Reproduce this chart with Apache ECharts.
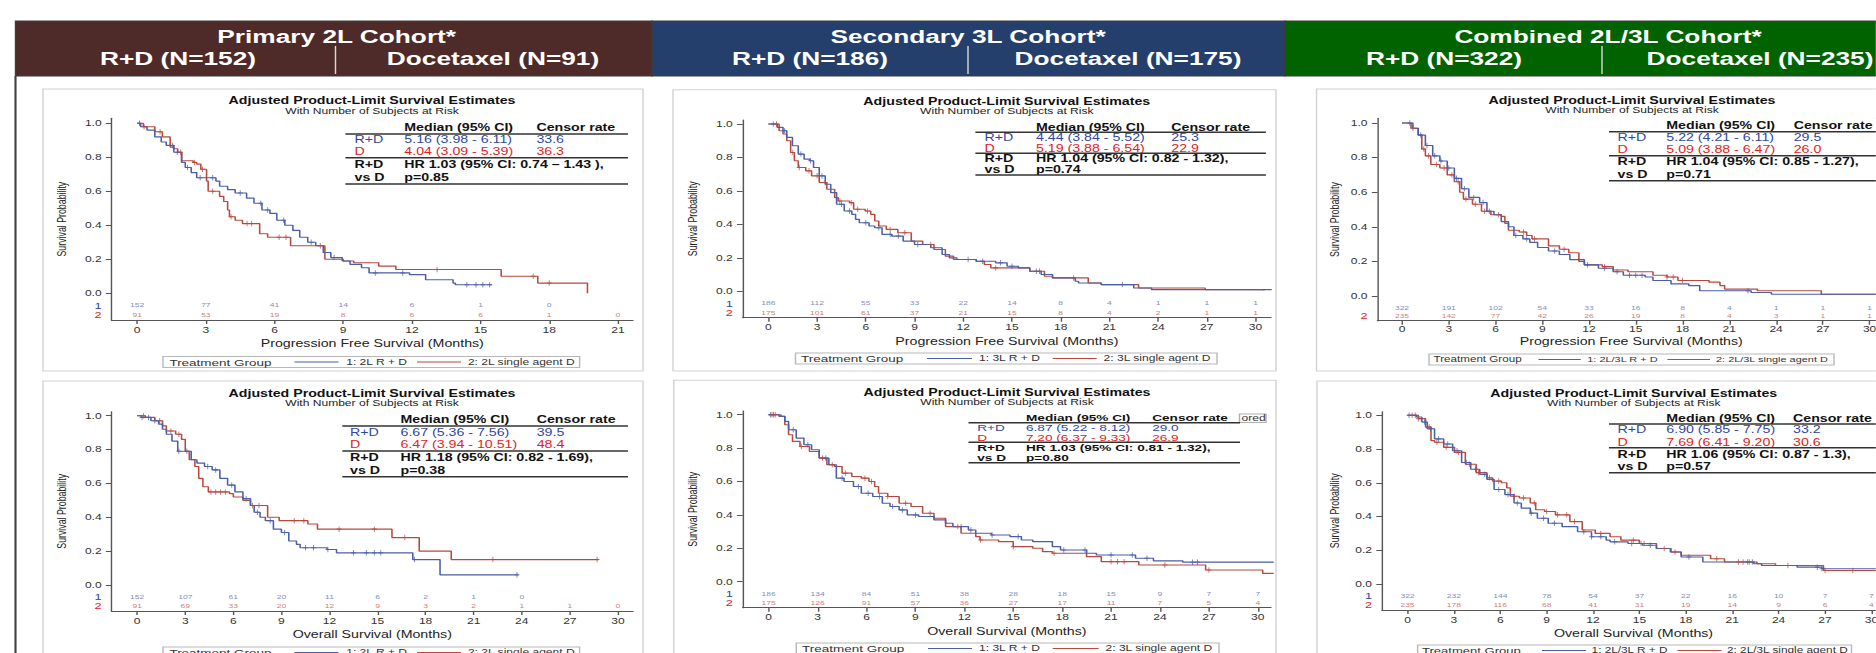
<!DOCTYPE html>
<html><head><meta charset="utf-8">
<script src="https://cdn.jsdelivr.net/npm/echarts@6/dist/echarts.min.js"></script>
<style>html,body{margin:0;padding:0;background:#fff;overflow:hidden}
#c{height:653px;transform-origin:0 0;}</style>
</head><body><div id="c"></div><script>
// ---------------- DATA ----------------
const cohortTitles = ['Primary 2L Cohort*', 'Secondary 3L Cohort*', 'Combined 2L/3L Cohort*'];
const armRD = ['R+D (N=152)', 'R+D (N=186)', 'R+D (N=322)'];
const armD = ['Docetaxel (N=91)', 'Docetaxel (N=175)', 'Docetaxel (N=235)'];

const ticks21 = [0, 3, 6, 9, 12, 15, 18, 21];
const ticks30 = [0, 3, 6, 9, 12, 15, 18, 21, 24, 27, 30];
const yTicks = [0, 0.2, 0.4, 0.6, 0.8, 1.0];

// PFS 2L
const pfs2L_RD = [[0,1],[0.15,0.98],[0.43,0.96],[0.77,0.92],[1.05,0.89],[1.27,0.87],[1.6,0.83],[1.94,0.77],[2.1,0.74],[2.36,0.71],[2.6,0.68],[3.44,0.66],[3.6,0.63],[3.95,0.61],[4.28,0.59],[4.78,0.56],[5.1,0.53],[5.45,0.49],[5.8,0.47],[6.1,0.43],[6.45,0.40],[6.8,0.37],[7.1,0.33],[7.45,0.30],[7.8,0.28],[8.13,0.24],[8.46,0.21],[8.96,0.19],[9.3,0.17],[9.8,0.15],[10.13,0.12],[11.9,0.11],[12.6,0.08],[13.8,0.06],[13.9,0.05],[15.5,0.05]];
const pfs2L_D = [[0,1],[0.27,0.98],[0.77,0.95],[1.1,0.92],[1.44,0.86],[1.6,0.85],[1.77,0.83],[1.94,0.78],[2.44,0.77],[2.6,0.76],[2.78,0.73],[3.03,0.66],[3.1,0.60],[3.6,0.57],[3.78,0.54],[3.95,0.49],[4.03,0.45],[4.28,0.43],[4.6,0.41],[5.35,0.35],[5.7,0.33],[6.7,0.28],[8.2,0.20],[9.0,0.19],[9.46,0.18],[10.55,0.16],[11.3,0.14],[15.9,0.10],[17.5,0.06],[19.67,0]];
const pfs2L_RD_cens = [0.1,1.55,1.75,2.2,2.75,3.3,4.5,5.4,5.7,6.4,7.6,8.6,10.4,11.6,14.4,14.8,15.1,15.4];
const pfs2L_D_cens = [0.3,1.0,1.9,2.5,2.85,3.3,4.1,4.8,5.0,6.2,6.5,8.0,13.1,17.3,18.0];
const pfs2L_riskRD = [152,77,41,14,6,1,0];
const pfs2L_riskD = [91,53,19,8,6,6,1,0];

// PFS 3L
const pfs3L_RD = [[0,1],[0.54,0.98],[0.9,0.96],[1.13,0.92],[1.48,0.87],[1.84,0.82],[2.2,0.79],[2.55,0.78],[2.78,0.74],[3.13,0.69],[3.5,0.64],[3.84,0.59],[4.2,0.52],[4.67,0.48],[5.14,0.46],[5.37,0.43],[5.6,0.41],[6.2,0.39],[6.55,0.38],[7.0,0.34],[7.6,0.33],[8.3,0.30],[9.0,0.28],[10.0,0.26],[10.7,0.22],[11.15,0.20],[11.6,0.19],[12.8,0.18],[14.0,0.17],[14.7,0.15],[15.4,0.14],[16.1,0.12],[16.8,0.10],[17.5,0.08],[18.9,0.06],[19.1,0.05],[20.5,0.04],[22.5,0.02],[23.6,0.01],[31,0.01]];
const pfs3L_D = [[0,1],[0.66,0.96],[0.9,0.94],[1.13,0.90],[1.37,0.83],[1.6,0.78],[1.84,0.74],[2.3,0.72],[2.66,0.69],[3.13,0.65],[3.6,0.61],[4.08,0.56],[4.3,0.54],[5.0,0.53],[5.25,0.49],[5.96,0.48],[6.3,0.46],[6.55,0.42],[6.8,0.39],[7.26,0.37],[7.97,0.35],[8.8,0.30],[9.5,0.28],[10.2,0.25],[10.9,0.21],[11.4,0.19],[12.8,0.18],[13.3,0.16],[13.7,0.14],[16.1,0.12],[17.0,0.09],[17.5,0.08],[19.7,0.05],[20.5,0.04],[22.8,0.02],[26.9,0.01],[30.5,0.005]];
const pfs3L_RD_cens = [0.3,1.0,2.0,2.6,3.3,4.5,5.0,6.0,6.8,7.5,8.0,9.2,12.3,13.2,14.3,15.0,16.5,21.8];
const pfs3L_D_cens = [0.5,1.5,1.9,2.5,3.0,3.5,4.4,5.1,5.5,6.1,7.5,8.4,10.0,14.0,16.7,18.8];
const pfs3L_riskRD = [186,112,55,33,22,14,8,4,1,1,1];
const pfs3L_riskD = [175,101,61,37,21,15,8,4,2,1,1];

// PFS combined
const pfsAll_RD = [[0,1],[0.7,0.97],[1.04,0.93],[1.5,0.87],[1.97,0.81],[2.43,0.78],[2.9,0.74],[3.36,0.68],[3.82,0.62],[4.29,0.57],[4.98,0.54],[5.45,0.49],[5.9,0.47],[6.37,0.43],[6.83,0.40],[7.18,0.35],[7.76,0.33],[8.2,0.31],[8.7,0.28],[9.4,0.26],[10.1,0.24],[10.77,0.21],[11.7,0.18],[12.6,0.16],[13.55,0.14],[14.2,0.12],[15.6,0.11],[16.1,0.09],[17.26,0.07],[18.4,0.06],[19.1,0.03],[22.4,0.02],[23.7,0.01],[31,0.01]];
const pfsAll_D = [[0,1],[0.58,0.97],[1.04,0.93],[1.27,0.85],[1.5,0.81],[1.85,0.76],[2.43,0.74],[2.9,0.70],[3.36,0.66],[3.7,0.60],[3.94,0.56],[4.52,0.53],[5.1,0.49],[5.7,0.47],[6.37,0.46],[6.6,0.42],[6.83,0.38],[7.53,0.37],[8.0,0.35],[8.34,0.33],[9.4,0.29],[10.1,0.27],[10.7,0.25],[11.35,0.20],[11.7,0.18],[12.85,0.17],[13.55,0.15],[14.5,0.14],[16.1,0.12],[17.0,0.11],[17.7,0.09],[19.7,0.08],[20.4,0.06],[20.7,0.04],[22.8,0.03],[26.9,0.01],[31,0.01]];
const pfsAll_RD_cens = [0.5,1.2,1.6,2.1,2.5,3.0,3.5,4.0,4.6,5.2,5.6,7.3,8.0,9.8,11.9,13.0,13.8,14.6,15.0,15.4,22.2];
const pfsAll_D_cens = [0.7,1.4,1.7,2.2,2.7,3.2,3.6,4.1,4.7,5.3,6.2,7.8,8.5,10.4,13.0,17.0,17.4,18.0];
const pfsAll_riskRD = [322,191,102,54,33,16,8,4,1,1,1];
const pfsAll_riskD = [235,142,77,42,26,19,8,4,3,1,1];

// OS 2L
const os2L_RD = [[0,1],[0.26,0.99],[0.86,0.97],[1.34,0.95],[1.58,0.92],[1.82,0.89],[2.17,0.85],[2.53,0.79],[3.37,0.74],[3.73,0.72],[4.2,0.70],[4.68,0.68],[5.16,0.63],[5.64,0.59],[6.1,0.55],[6.6,0.51],[7.07,0.47],[7.3,0.43],[7.67,0.40],[8.0,0.38],[8.5,0.33],[9.0,0.31],[9.46,0.26],[9.94,0.24],[10.17,0.22],[11.85,0.21],[12.44,0.19],[17.2,0.15],[18.9,0.06],[23.8,0.06]];
const os2L_D = [[0,1],[0.5,0.99],[1.1,0.97],[1.58,0.94],[1.82,0.91],[2.4,0.89],[2.77,0.86],[3.0,0.79],[3.25,0.74],[3.6,0.70],[3.84,0.63],[4.1,0.58],[4.44,0.55],[5.76,0.54],[6.0,0.52],[6.6,0.50],[7.07,0.47],[8.14,0.40],[8.86,0.38],[10.65,0.36],[11.25,0.33],[15.9,0.28],[17.6,0.20],[19.6,0.15],[28.8,0.15]];
const os2L_RD_cens = [0.3,0.7,1.1,2.6,3.1,4.4,4.9,5.9,6.8,7.5,8.3,9.2,10.5,11.0,11.9,13.5,14.3,14.8,15.2,17.3,23.7];
const os2L_D_cens = [0.4,1.4,2.1,2.6,4.6,4.9,5.2,5.5,7.2,7.6,9.8,10.4,12.6,14.8,16.7,22.2,28.7];
const os2L_riskRD = [152,107,61,20,11,6,2,1,0];
const os2L_riskD = [91,69,33,20,12,9,3,2,1,1,0];

// OS 3L
const os3L_RD = [[0,1],[0.75,0.99],[0.99,0.96],[1.22,0.91],[1.69,0.86],[2.16,0.82],[2.63,0.79],[3.1,0.74],[3.69,0.70],[4.15,0.62],[4.62,0.60],[5.2,0.57],[5.68,0.53],[6.38,0.51],[6.97,0.47],[7.44,0.45],[8.0,0.43],[8.5,0.40],[9.2,0.39],[10.14,0.37],[10.85,0.35],[11.3,0.33],[12.25,0.31],[12.7,0.29],[13.66,0.28],[14.8,0.27],[15.5,0.25],[16.2,0.24],[17.4,0.21],[17.9,0.19],[19.5,0.17],[20.1,0.16],[22.5,0.14],[23.6,0.125],[25.4,0.117],[31,0.117]];
const os3L_D = [[0,1],[0.63,0.99],[0.99,0.94],[1.22,0.88],[1.46,0.84],[1.92,0.81],[2.5,0.78],[3.1,0.74],[3.57,0.70],[4.04,0.69],[4.5,0.65],[5.1,0.63],[5.68,0.62],[6.15,0.60],[6.5,0.57],[6.74,0.53],[7.3,0.51],[8.0,0.47],[8.73,0.45],[9.44,0.41],[10.14,0.38],[10.85,0.33],[11.8,0.29],[12.7,0.27],[12.96,0.25],[14.1,0.24],[15.0,0.21],[16.2,0.20],[16.8,0.18],[17.4,0.17],[19.5,0.15],[20.4,0.12],[22.7,0.10],[26.8,0.07],[30.3,0.05],[31,0.05]];
const os3L_RD_cens = [0.1,0.3,1.5,2.4,3.5,4.5,5.5,6.1,6.8,7.6,8.2,9.0,11.8,12.4,13.7,15.3,18.1,19.4,21.0,22.3,23.2,26.0,26.3];
const os3L_D_cens = [0.2,0.4,2.0,3.3,3.9,4.7,5.9,6.3,7.3,8.4,9.9,11.6,13.0,15.0,17.5,21.0,21.4,21.8,24.3,27.0];
const os3L_riskRD = [186,134,84,51,38,28,18,15,9,7,7];
const os3L_riskD = [175,126,91,57,36,27,17,11,7,5,4];

// OS combined
const osAll_RD = [[0,1],[0.58,0.99],[0.93,0.96],[1.28,0.92],[1.75,0.86],[2.34,0.83],[2.92,0.79],[3.5,0.72],[4.09,0.68],[4.67,0.65],[5.14,0.62],[5.6,0.56],[6.3,0.53],[6.89,0.48],[7.36,0.45],[7.94,0.42],[8.4,0.39],[9.1,0.36],[10.0,0.34],[11.0,0.31],[11.9,0.28],[12.85,0.26],[13.1,0.25],[14.26,0.24],[15.2,0.23],[16.1,0.21],[17.0,0.19],[17.7,0.16],[19.1,0.13],[22.4,0.12],[22.9,0.11],[25.2,0.10],[26.8,0.09],[31,0.09]];
const osAll_D = [[0,1],[0.7,0.98],[1.17,0.93],[1.52,0.85],[1.75,0.84],[2.34,0.81],[3.04,0.78],[3.74,0.71],[4.44,0.66],[5.14,0.63],[5.5,0.61],[6.07,0.60],[6.42,0.57],[6.65,0.52],[7.24,0.51],[7.94,0.48],[8.29,0.44],[8.87,0.43],[9.57,0.41],[10.5,0.37],[11.3,0.32],[12.14,0.30],[13.1,0.28],[13.8,0.26],[14.99,0.24],[16.1,0.21],[17.04,0.19],[17.7,0.17],[19.6,0.15],[20.5,0.13],[22.6,0.12],[23.8,0.11],[26.9,0.08],[31,0.08]];
const osAll_RD_cens = [0.1,0.5,1.1,1.5,2.0,2.6,3.2,3.8,4.4,5.0,5.9,6.5,7.1,8.0,8.8,9.5,11.4,11.9,12.5,13.4,14.5,15.1,15.7,18.2,22.0,22.3,26.5,26.8];
const osAll_D_cens = [0.3,0.7,1.4,1.9,2.5,3.3,4.0,4.6,5.3,5.9,6.9,7.5,8.2,9.0,9.7,10.3,10.8,12.5,14.6,15.3,16.6,17.3,20.0,21.4,21.7,22.1,24.6,27.0,28.8];
const osAll_riskRD = [322,232,144,78,54,37,22,16,10,7,7];
const osAll_riskD = [235,178,116,68,41,31,19,14,9,6,4];

// table texts
const medianRD = ['5.16 (3.98 - 6.11)','4.44 (3.84 - 5.52)','5.22 (4.21 - 6.11)','6.67 (5.36 - 7.56)','6.87 (5.22 - 8.12)','6.90 (5.85 - 7.75)'];
const medianD = ['4.04 (3.09 - 5.39)','5.19 (3.88 - 6.54)','5.09 (3.88 - 6.47)','6.47 (3.94 - 10.51)','7.20 (6.37 - 9.33)','7.69 (6.41 - 9.20)'];
const censorRD = ['33.6','25.3','29.5','39.5','29.0','33.2'];
const censorD = ['36.3','22.9','26.0','48.4','26.9','30.6'];
const hrText = ['HR 1.03 (95% CI: 0.74 \u2013 1.43 ),','HR 1.04 (95% CI: 0.82 - 1.32),','HR 1.04 (95% CI: 0.85 - 1.27),','HR 1.18 (95% CI: 0.82 - 1.69),','HR 1.03 (95% CI: 0.81 - 1.32),','HR 1.06 (95% CI: 0.87 - 1.3),'];
const pText = ['p=0.85','p=0.74','p=0.71','p=0.38','p=0.80','p=0.57'];
const legendRD = ['1: 2L R + D','1: 3L R + D','1: 2L/3L R + D','1: 2L R + D','1: 3L R + D','1: 2L/3L R + D'];
const legendD = ['2: 2L single agent D','2: 3L single agent D','2: 2L/3L single agent D','2: 2L single agent D','2: 3L single agent D','2: 2L/3L single agent D'];
const xTitles = ['Progression Free Survival (Months)','Progression Free Survival (Months)','Progression Free Survival (Months)','Overall Survival (Months)','Overall Survival (Months)','Overall Survival (Months)'];

const panelData = [
  {rd:pfs2L_RD, d:pfs2L_D, cRD:pfs2L_RD_cens, cD:pfs2L_D_cens, rRD:pfs2L_riskRD, rD:pfs2L_riskD, ticks:ticks21},
  {rd:pfs3L_RD, d:pfs3L_D, cRD:pfs3L_RD_cens, cD:pfs3L_D_cens, rRD:pfs3L_riskRD, rD:pfs3L_riskD, ticks:ticks30},
  {rd:pfsAll_RD, d:pfsAll_D, cRD:pfsAll_RD_cens, cD:pfsAll_D_cens, rRD:pfsAll_riskRD, rD:pfsAll_riskD, ticks:ticks30},
  {rd:os2L_RD, d:os2L_D, cRD:os2L_RD_cens, cD:os2L_D_cens, rRD:os2L_riskRD, rD:os2L_riskD, ticks:ticks30},
  {rd:os3L_RD, d:os3L_D, cRD:os3L_RD_cens, cD:os3L_D_cens, rRD:os3L_riskRD, rD:os3L_riskD, ticks:ticks30},
  {rd:osAll_RD, d:osAll_D, cRD:osAll_RD_cens, cD:osAll_D_cens, rRD:osAll_riskRD, rD:osAll_riskD, ticks:ticks30}
];

// ---------------- LAYOUT (reference pixel coords) ----------------
const S = 1.42;               // horizontal stretch of the reference
const W = 1876 / S;
const X = v => v / S;
document.getElementById('c').style.width = W + 'px';
document.getElementById('c').style.transform = 'scaleX(' + S + ')';

const FONT = '"Liberation Sans", Arial, sans-serif';
const blueLine = '#4a5ea9', redLine = '#b8493e';
const blueTxt = '#2f47a0', redTxt = '#e0221d';
const riskBlue = '#5a6db4', riskRed = '#c45a4f';

const headerLayout = [
  {x0:15.5, x1:652, fill:'#4e2b29', t:336.7, l:178, r:493, d:335.5},
  {x0:652, x1:1285, fill:'#243f6b', t:968, l:810, r:1128, d:968},
  {x0:1285, x1:1890, fill:'#006300', t:1608, l:1444, r:1760, d:1602}
];

const panels = [
  {box:[43,89,643,371], frame:[111.6,118.3,633,320], xt:[137.2,617.9,21], yp:[123.3,293.3], rows:[305.3,314.7], yName:62, xNameY:344, tickY:330,
   title:[372,101,111.5], tab:{x0:345.4,x1:628,c1:354.6,c2:404.3,c3:536.4,y:[127.3,134,139.3,151.7,157.7,164.3,177.7,184],fs:10},
   leg:{b0:163,b1:579.6,y:362,tg:169.4,l1:[294.5,338.5],t1:346.2,l2:[417,461],t2:467.9,f1:9.5,f2:8.5}},
  {box:[673,89.7,1276,371], frame:[742.7,120,1271,317.7], xt:[768.4,1255.5,30], yp:[124,291.3], rows:[303.3,312.7], yName:693, xNameY:341.7, tickY:327.3,
   title:[1006.8,101.7,111], tab:{x0:975.4,x1:1265.9,c1:984.6,c2:1036,c3:1171.3,y:[127.3,132.3,137.7,148.3,153.3,159,170,175],fs:10},
   leg:{b0:795.5,b1:1217,y:358.5,tg:801,l1:[927,972],t1:979,l2:[1052.7,1096.7],t2:1103.6,f1:9.5,f2:8.5}},
  {box:[1316.5,89,1895,371], frame:[1377.5,118.3,1885,320.7], xt:[1402,1869.6,30], yp:[123,296], rows:[307.7,315.7], yName:1334.5, xNameY:342, tickY:329.3,
   title:[1632,100.3,109.7], tab:{x0:1609,x1:1890,c1:1617.6,c2:1666.3,c3:1793.7,y:[125.7,131.7,137.7,150,155.7,162,175,180.7],fs:10},
   leg:{b0:1429,b1:1834,y:359.5,tg:1433.5,l1:[1538.5,1580.8],t1:1587.3,l2:[1667.4,1710],t2:1716,f1:8.2,f2:7.7}},
  {box:[43,381,643,665], frame:[111.6,411.7,633,611], xt:[137.2,617.9,30], yp:[415.7,585], rows:[596.7,605.7], yName:62, xNameY:635, tickY:621,
   title:[372,393.3,403.3], tab:{x0:342.3,x1:628,c1:350,c2:400.5,c3:536.7,y:[420,426,432.3,445,451,457.3,470.7,476.7],fs:10},
   leg:{b0:163,b1:579.6,y:652.5,tg:169.4,l1:[294.5,338.5],t1:346.2,l2:[417,461],t2:467.9,f1:9.5,f2:8.5}},
  {box:[673.8,380.3,1276,665], frame:[742.7,411,1271,607.7], xt:[768.7,1257.8,30], yp:[414.7,581.7], rows:[594,603], yName:693, xNameY:631.7, tickY:617.3,
   title:[1007,392.7,402], tab:{x0:968.5,x1:1240,c1:977.3,c2:1026,c3:1152.2,y:[417.7,422.7,427.7,437.3,442.3,447.7,457.7,462.7],fs:9.6},
   leg:{b0:796.3,b1:1219,y:648.5,tg:802,l1:[928,972],t1:979,l2:[1052.7,1098.6],t2:1105.5,f1:9.5,f2:8.5}},
  {box:[1317,381,1895,665], frame:[1382,411.7,1885,610], xt:[1407.5,1871.4,30], yp:[415.3,584], rows:[595.7,605], yName:1335, xNameY:634, tickY:620,
   title:[1633.8,393.3,402.7], tab:{x0:1609,x1:1890,c1:1617.6,c2:1666.3,c3:1793,y:[418.3,424,430,442.3,447.7,454.3,466.7,472.7],fs:10},
   leg:{b0:1417.6,b1:1851.5,y:650.5,tg:1422,l1:[1542,1586],t1:1591.6,l2:[1677.5,1721.5],t2:1727,f1:9.2,f2:8.3}}
];

// ---------------- BUILD ----------------
const G = [];
function txt(x, y, text, font, fill, align, z) {
  align = align || 'left';
  G.push({type:'text', x:X(x), y:y, z:z || 10, silent:true,
    style:{text:text, font:font, fill:fill, align:align, verticalAlign:'middle', textAlign:align, textVerticalAlign:'middle'}});
}
function hline(x0, x1, y, color, w, z) {
  G.push({type:'line', z:z || 10, silent:true, shape:{x1:X(x0), y1:y, x2:X(x1), y2:y}, style:{stroke:color, lineWidth:w}});
}
function vline(x, y0, y1, color, w, z) {
  G.push({type:'line', z:z || 10, silent:true, shape:{x1:X(x), y1:y0, x2:X(x), y2:y1}, style:{stroke:color, lineWidth:w}});
}
function rect(x0, y0, x1, y1, fill, stroke, w, z) {
  G.push({type:'rect', z:z || 0, silent:true, shape:{x:X(x0), y:y0, width:X(x1 - x0), height:y1 - y0}, style:{fill:fill, stroke:stroke, lineWidth:w}});
}

// headers
headerLayout.forEach((h, i) => {
  rect(h.x0, 21, h.x1, 76, h.fill, '#3c3c3c', 1, 1);
  txt(h.t, 36, cohortTitles[i], 'bold 18.5px ' + FONT, '#ffffff', 'center');
  txt(h.l, 58, armRD[i], 'bold 18.5px ' + FONT, '#ffffff', 'center');
  txt(h.r, 58, armD[i], 'bold 18.5px ' + FONT, '#ffffff', 'center');
  vline(h.d, 46, 74, '#d8d8d8', 1, 11);
});
vline(15.5, 76, 653, '#404040', 1.5, 11);

const grids = [], xAxes = [], yAxes = [], series = [];
const censorPath = 'path://M0,5L10,5M5,0L5,10';

function survAt(curve, t) {
  let s = curve[0][1];
  for (const p of curve) { if (p[0] <= t) s = p[1]; else break; }
  return s;
}

panels.forEach((P, i) => {
  const D = panelData[i];
  const [fl, ft, fr, fb] = P.frame;
  const pxm = (P.xt[1] - P.xt[0]) / P.xt[2];
  const xmin = (fl - P.xt[0]) / pxm, xmax = (fr - P.xt[0]) / pxm;
  const ppu = P.yp[1] - P.yp[0];
  const ymax = (P.yp[1] - ft) / ppu, ymin = -(fb - P.yp[1]) / ppu;
  const r1 = -(P.rows[0] - P.yp[1]) / ppu, r2 = -(P.rows[1] - P.yp[1]) / ppu;

  // panel box
  rect(P.box[0], P.box[1], P.box[2], P.box[3], '#ffffff', '#d2d2d2', 1, 0);

  grids.push({left:X(fl), top:ft, width:X(fr - fl), height:fb - ft, show:true, borderColor:'#c4c4c4', borderWidth:1,
    backgroundColor:'rgba(0,0,0,0)', containLabel:false, outerBoundsMode:'none'});

  xAxes.push({gridIndex:i, type:'value', min:xmin, max:xmax,
    axisLine:{show:true, onZero:false, lineStyle:{color:'#555', width:1}},
    axisTick:{show:true, customValues:D.ticks, length:4, lineStyle:{color:'#555'}},
    axisLabel:{show:true, hideOverlap:false, showMinLabel:true, showMaxLabel:true, customValues:D.ticks, margin:P.tickY - fb - 4.5, fontSize:8.5, color:'#333', fontFamily:FONT},
    splitLine:{show:false},
    name:xTitles[i], nameLocation:'middle', nameGap:P.xNameY - fb - 5,
    nameTextStyle:{fontSize:10, color:'#222', fontFamily:FONT}});

  yAxes.push({gridIndex:i, type:'value', min:ymin, max:ymax,
    axisLine:{show:true, onZero:false, lineStyle:{color:'#555', width:1}},
    axisTick:{show:true, customValues:yTicks, length:4, lineStyle:{color:'#555'}},
    axisLabel:{show:true, hideOverlap:false, showMinLabel:true, showMaxLabel:true, customValues:[r2, r1].concat(yTicks), margin:7, fontSize:8.5, lineHeight:7, color:'#333', fontFamily:FONT,
      formatter:function (v) {
        if (Math.abs(v - r1) < 1e-6) return '{a|1}';
        if (Math.abs(v - r2) < 1e-6) return '{b|2}';
        return (+v).toFixed(1);
      },
      rich:{a:{color:blueTxt, fontSize:9, lineHeight:7, fontFamily:FONT}, b:{color:redTxt, fontSize:9, lineHeight:7, fontFamily:FONT}}},
    splitLine:{show:false},
    name:'Survival Probability', nameLocation:'middle', nameRotate:90,
    nameGap:(fl - P.yName) / S - 4.4, nameTextStyle:{fontSize:8.8, color:'#222', fontFamily:FONT}});

  series.push({type:'line', xAxisIndex:i, yAxisIndex:i, step:'end', symbol:'none', showSymbol:false, silent:true,
    data:D.rd, lineStyle:{color:blueLine, width:1.1}, z:4});
  series.push({type:'line', xAxisIndex:i, yAxisIndex:i, step:'end', symbol:'none', showSymbol:false, silent:true,
    data:D.d, lineStyle:{color:redLine, width:1.1}, z:3});
  series.push({type:'scatter', xAxisIndex:i, yAxisIndex:i, silent:true, z:5,
    data:D.cRD.map(t => [t, survAt(D.rd, t)]), symbol:censorPath, symbolSize:[3.4, 5.5],
    itemStyle:{color:'rgba(0,0,0,0)', borderColor:blueLine, borderWidth:0.8}});
  series.push({type:'scatter', xAxisIndex:i, yAxisIndex:i, silent:true, z:5,
    data:D.cD.map(t => [t, survAt(D.d, t)]), symbol:censorPath, symbolSize:[3.4, 5.5],
    itemStyle:{color:'rgba(0,0,0,0)', borderColor:redLine, borderWidth:0.8}});
  series.push({type:'scatter', xAxisIndex:i, yAxisIndex:i, silent:true, symbolSize:1,
    data:D.rRD.map((n, k) => [D.ticks[k], r1, n]), itemStyle:{color:'rgba(0,0,0,0)'},
    labelLayout:{hideOverlap:false},
    label:{show:true, position:'inside', formatter:p => String(p.value[2]), fontSize:6, color:riskBlue, fontFamily:FONT}});
  series.push({type:'scatter', xAxisIndex:i, yAxisIndex:i, silent:true, symbolSize:1,
    data:D.rD.map((n, k) => [D.ticks[k], r2, n]), itemStyle:{color:'rgba(0,0,0,0)'},
    labelLayout:{hideOverlap:false},
    label:{show:true, position:'inside', formatter:p => String(p.value[2]), fontSize:6, color:riskRed, fontFamily:FONT}});

  // titles
  txt(P.title[0], P.title[1], 'Adjusted Product-Limit Survival Estimates', 'bold 10px ' + FONT, '#111', 'center');
  txt(P.title[0], P.title[2], 'With Number of Subjects at Risk', '8.5px ' + FONT, '#222', 'center');

  // stats table
  const T = P.tab, fs = T.fs, y = T.y;
  txt(T.c2, y[0], 'Median (95% CI)', 'bold ' + fs + 'px ' + FONT, '#111');
  txt(T.c3, y[0], 'Censor rate', 'bold ' + fs + 'px ' + FONT, '#111');
  hline(T.x0, T.x1, y[1], '#333', 1.4);
  txt(T.c1, y[2], 'R+D', fs + 'px ' + FONT, blueTxt);
  txt(T.c2, y[2], medianRD[i], fs + 'px ' + FONT, blueTxt);
  txt(T.c3, y[2], censorRD[i], fs + 'px ' + FONT, blueTxt);
  txt(T.c1, y[3], 'D', fs + 'px ' + FONT, redTxt);
  txt(T.c2, y[3], medianD[i], fs + 'px ' + FONT, redTxt);
  txt(T.c3, y[3], censorD[i], fs + 'px ' + FONT, redTxt);
  hline(T.x0, T.x1, y[4], '#333', 1.4);
  txt(T.c1, y[5], 'R+D', 'bold ' + fs + 'px ' + FONT, '#111');
  txt(T.c2, y[5], hrText[i], 'bold ' + fs + 'px ' + FONT, '#111');
  txt(T.c1, y[6], 'vs D', 'bold ' + fs + 'px ' + FONT, '#111');
  txt(T.c2, y[6], pText[i], 'bold ' + fs + 'px ' + FONT, '#111');
  hline(T.x0, T.x1, y[7], '#333', 1.4);

  // legend
  const L = P.leg;
  rect(L.b0, L.y - 5.5, L.b1, L.y + 5.5, '#ffffff', '#b8b8b8', 1, 6);
  txt(L.tg, L.y, 'Treatment Group', L.f1 + 'px ' + FONT, '#333');
  hline(L.l1[0], L.l1[1], L.y, blueLine, 1);
  txt(L.t1, L.y, legendRD[i], L.f2 + 'px ' + FONT, '#333');
  hline(L.l2[0], L.l2[1], L.y, redLine, 1);
  txt(L.t2, L.y, legendD[i], L.f2 + 'px ' + FONT, '#333');
});

// partially hidden "Censored" legend box in the 3L OS panel
rect(1239.5, 414, 1266, 422.5, '#ffffff', '#b0b0b0', 1, 7);
txt(1241.5, 418.3, 'ored', '8.5px ' + FONT, '#333');

const chart = echarts.init(document.getElementById('c'), null, {renderer:'svg'});
chart.setOption({
  animation:false,
  backgroundColor:'#ffffff',
  textStyle:{fontFamily:FONT},
  grid:grids, xAxis:xAxes, yAxis:yAxes, series:series,
  graphic:{elements:G}
});
</script></body></html>
